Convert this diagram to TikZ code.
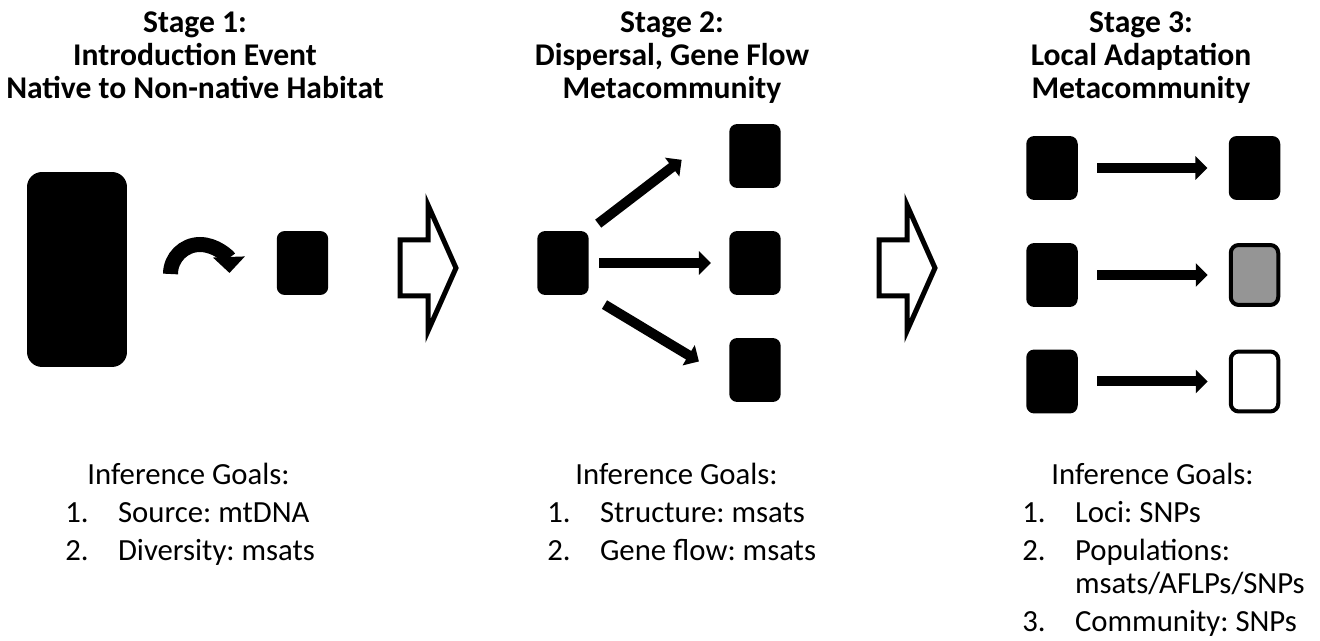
\documentclass[tikz,border=0pt]{standalone}
\usepackage{fontspec}
\setmainfont{Carlito}
\frenchspacing
\usetikzlibrary{positioning, arrows.meta}
\definecolor{midgray}{HTML}{959595}
\tikzset{
  pop/.style={
    rectangle,
    fill=black,
    rounded corners=0.16cm,
    minimum width=1.03cm,
    minimum height=1.28cm,
    inner sep=0pt
  },
  popout/.style={
    pop,
    draw=black,
    line width=0.08cm,
    minimum width=0.95cm,
    minimum height=1.2cm
  },
  flow/.style={
    line width=0.2cm,
    -{Triangle[width=0.46cm, length=0.24cm]}
  },
  stagehead/.style={
    font=\bfseries\fontsize{18}{19}\selectfont,
    align=center,
    anchor=base
  },
  goals/.style={
    font=\fontsize{17.5}{18.8}\selectfont,
    anchor=base west,
    inner sep=0pt
  }
}

\begin{document}
\begin{tikzpicture}[x=0.02cm, y=-0.02cm]
        \useasboundingbox (0,0) rectangle (1320,641);

        % stage 1
        \node[pop, rounded corners=0.3cm, minimum width=2cm, minimum height=3.9cm] (native) at (77,269.5) {};
        \node[pop] (intro) at (302.5,263) {};
        \coordinate (turn) at (200,274);
        \draw[line width=0.3cm, -{Triangle[width=0.62cm, length=0.32cm]}] ([xshift=-0.59cm]turn) arc[start angle=180, end angle=2, radius=0.59cm];

        % hollow arrows between the stages
        \foreach \ox in {0,479}
          \draw[line width=0.1cm] (400+\ox,240) -- (428+\ox,240) -- (428+\ox,205) -- (456+\ox,268)
            -- (428+\ox,331) -- (428+\ox,296) -- (400+\ox,296) -- cycle;

        % stage 2
        \node[pop] (src) at (563,263) {};
        \node[pop] (up) at (755,156) {};
        \node[pop] (mid) at (755,263) {};
        \node[pop] (down) at (755,370) {};
        \draw[flow, shorten <=0.23cm, shorten >=1.19cm] (src.north east) -- (up.north west);
        \draw[flow, shorten <=0.2cm, shorten >=0.36cm] (src) -- (mid);
        \draw[flow, shorten <=0.36cm, shorten >=0.7cm] (src.south east) -- (down.-160);

        % stage 3
        \foreach \r/\y in {1/168, 2/275, 3/381.5}
          \node[pop] (from\r) at (1052,\y) {};
        \node[pop] (to1) at (1254.5,168) {};
        \node[popout, fill=midgray] (to2) at (1254.5,275) {};
        \node[popout, fill=white] (to3) at (1254.5,381.5) {};
        \foreach \r in {1,2,3}
          \draw[flow, shorten <=0.38cm, shorten >=0.42cm] (from\r) -- (to\r);

        % titles
        \node[stagehead] (head1) at (195,99) {Stage 1:\\Introduction Event\\Native to Non-native Habitat};
        \node[stagehead] (head2) at (672,99) {Stage 2:\\Dispersal, Gene Flow\\Metacommunity};
        \node[stagehead] (head3) at (1141,99) {Stage 3:\\Local Adaptation\\Metacommunity};

        % inference goals
        \node[goals] (aim1) at (87,485) {Inference Goals:};
        \node[goals] (aim2) at (575,485) {Inference Goals:};
        \node[goals] (aim3) at (1051,485) {Inference Goals:};
        \node[goals] (list1) at (65,523) {\begin{tabular}[t]{@{}p{30pt}@{}l@{}}
          1. & Source: mtDNA\\[2.8pt]
          2. & Diversity: msats
        \end{tabular}};
        \node[goals] (list2) at (547,523) {\begin{tabular}[t]{@{}p{30pt}@{}l@{}}
          1. & Structure: msats\\[2.8pt]
          2. & Gene flow: msats
        \end{tabular}};
        \node[goals] (list3) at (1022,523) {\begin{tabular}[t]{@{}p{30pt}@{}l@{}}
          1. & Loci: SNPs\\[2.8pt]
          2. & Populations:\\
             & msats/AFLPs/SNPs\\[2.8pt]
          3. & Community: SNPs
        \end{tabular}};
      \end{tikzpicture}
\end{document}
